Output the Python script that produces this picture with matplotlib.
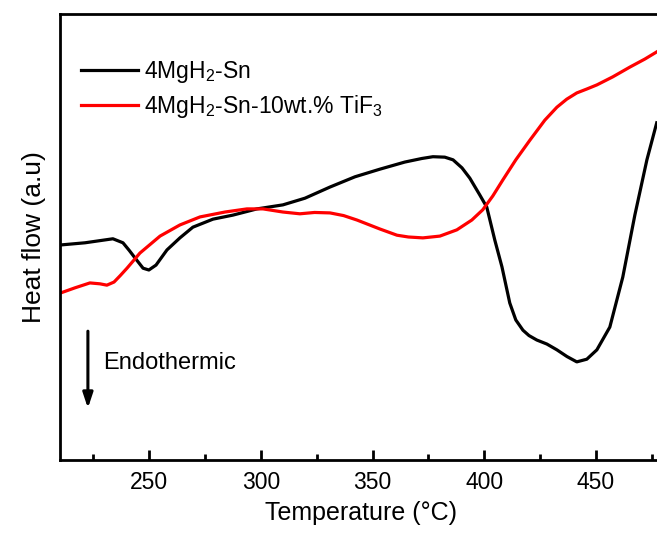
import matplotlib
matplotlib.use('Agg')
import matplotlib.pyplot as plt
from matplotlib.ticker import MultipleLocator

# DSC curves (temperature in C, heat flow in arbitrary units)
temp_sn = [210, 221.2, 233.7, 238.2, 241.0, 243.6, 247.2, 249.8, 253.0, 257.9, 263.7,
           269.5, 278.5, 287.4, 298.2, 309.8, 319.7, 330.9, 342.1, 353.2, 364.4,
           372.0, 377.0, 382.3, 386.0, 390.0, 393.5, 398.0, 401.1, 404.7, 407.9, 411.4,
           414.1, 417.3, 420.0, 423.5, 428.0, 432.5, 437.0, 441.4, 445.9, 450.4, 456.2,
           462.0, 467.4, 472.8, 477.2]
flow_sn = [48.2, 48.7, 49.6, 48.7, 47.0, 45.3, 43.0, 42.6, 43.7, 47.1, 49.8,
           52.2, 54.0, 54.9, 56.3, 57.2, 58.7, 61.2, 63.5, 65.2, 66.8,
           67.6, 68.0, 67.9, 67.3, 65.5, 63.2, 59.4, 56.7, 49.3, 43.3, 35.2,
           31.4, 29.1, 27.9, 26.9, 26.0, 24.7, 23.2, 22.0, 22.6, 24.7, 29.8,
           41.0, 54.9, 67.3, 75.6]

temp_tif3 = [210, 216.7, 223.4, 227.9, 231.0, 234.2, 236.9, 240.0, 245.8, 254.8,
             263.7, 272.7, 283.9, 293.7, 300.9, 309.8, 317.4, 324.0, 330.9, 337.0,
             343.0, 353.2, 360.9, 366.0, 372.5, 380.1, 387.7, 394.4, 399.3, 403.8,
             408.3, 414.1, 420.4, 427.1, 432.5, 436.9, 441.4, 446.0, 450.4, 457.5,
             465.2, 471.9, 477.2]
flow_tif3 = [37.4, 38.6, 39.7, 39.5, 39.2, 39.9, 41.3, 43.0, 46.4, 50.2,
             52.7, 54.5, 55.6, 56.3, 56.3, 55.6, 55.2, 55.5, 55.4, 54.8,
             53.8, 51.8, 50.4, 50.0, 49.8, 50.2, 51.6, 53.8, 56.1, 59.2,
             62.8, 67.3, 71.7, 76.2, 79.1, 80.9, 82.3, 83.2, 84.1, 85.9,
             88.1, 89.9, 91.5]

labels = [r'4MgH$_2$-Sn', r'4MgH$_2$-Sn-10wt.% TiF$_3$']


def main():
    plt.rcParams['font.family'] = ['Liberation Sans', 'DejaVu Sans']
    plt.rcParams['mathtext.fontset'] = 'custom'
    plt.rcParams['mathtext.rm'] = 'Liberation Sans'
    plt.rcParams['mathtext.it'] = 'Liberation Sans'
    plt.rcParams['mathtext.default'] = 'regular'

    fig = plt.figure(figsize=(6.57, 5.36), dpi=100)
    ax = fig.add_axes([0.0913, 0.1418, 0.9178, 0.8321])

    ax.plot(temp_sn, flow_sn, color='black', lw=2.3, solid_joinstyle='round', label=labels[0])
    ax.plot(temp_tif3, flow_tif3, color='red', lw=2.3, solid_joinstyle='round', label=labels[1])

    ax.set_xlim(210, 480)
    ax.set_ylim(0, 100)
    ax.xaxis.set_major_locator(MultipleLocator(50))
    ax.xaxis.set_minor_locator(MultipleLocator(25))
    ax.set_yticks([])
    ax.tick_params(axis='x', which='major', direction='in', length=7, width=2, labelsize=16.5, pad=8)
    ax.tick_params(axis='x', which='minor', direction='in', length=4, width=2)
    for s in ax.spines.values():
        s.set_linewidth(2)

    ax.set_xlabel('Temperature (\u00b0C)', fontsize=18, labelpad=5)
    ax.set_ylabel('Heat flow (a.u)', fontsize=19, labelpad=10)

    ax.legend(loc='upper left', bbox_to_anchor=(0.008, 0.935), frameon=False,
              fontsize=16.5, handlelength=2.5, handletextpad=0.25, labelspacing=0.35,
              borderaxespad=0.3)

    ax.annotate('', xy=(222.5, 11.0), xytext=(222.5, 29.5),
                arrowprops=dict(arrowstyle='-|>,head_length=0.9,head_width=0.3',
                                color='black', lw=2.2))
    ax.text(229.5, 21.7, 'Endothermic', fontsize=17, va='center', ha='left')

    plt.savefig('out.png', dpi=100)


if __name__ == '__main__':
    main()
